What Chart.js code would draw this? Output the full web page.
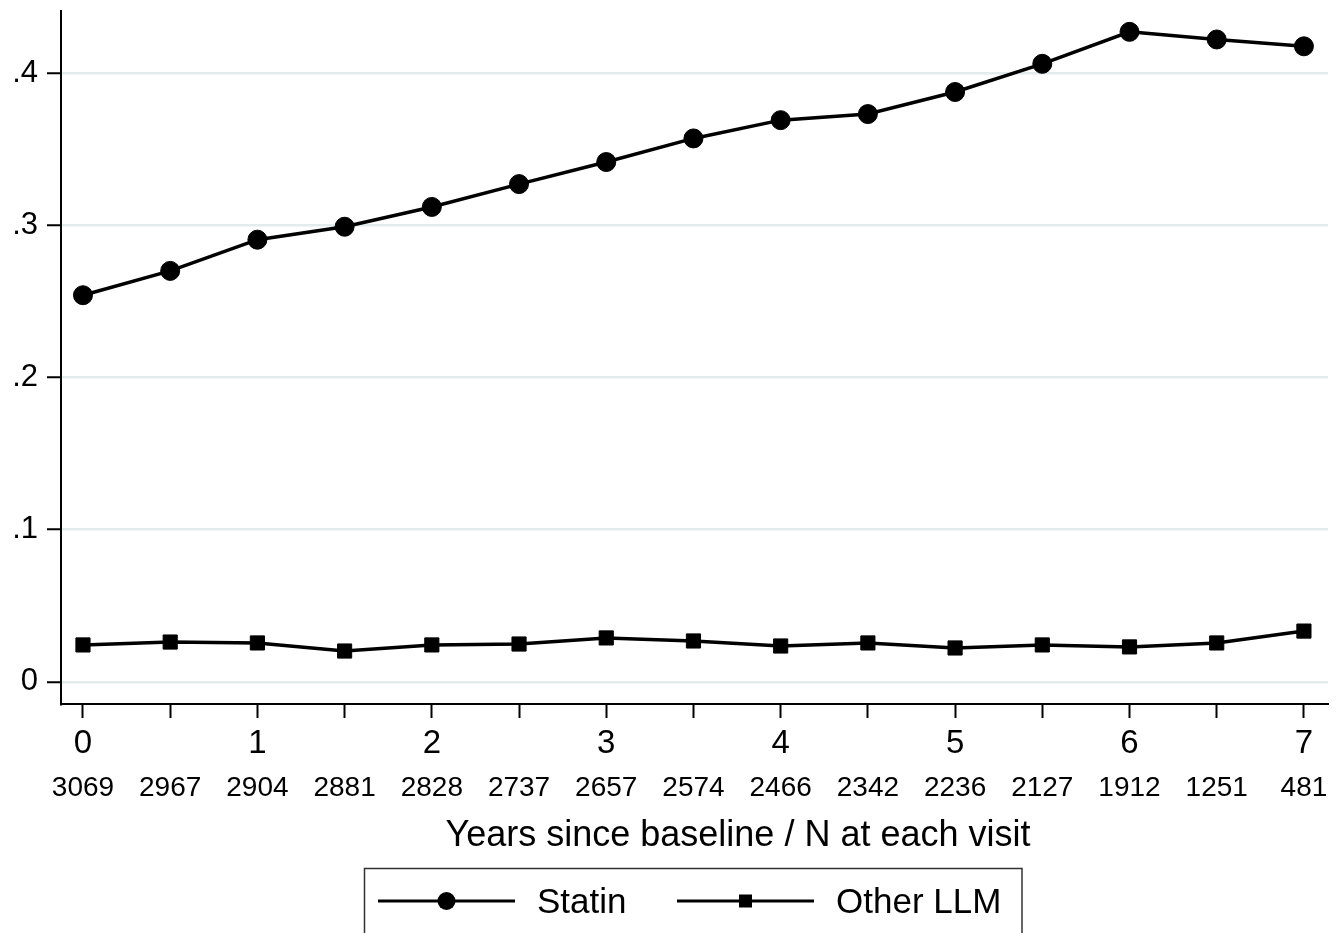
<!DOCTYPE html>
<html lang="en">
<head>
    <meta charset="UTF-8">
    <title>Statin vs Other LLM use</title>
    <script src="https://cdn.jsdelivr.net/npm/chart.js@4.4.1/dist/chart.umd.min.js"></script>
    <style>
        html, body { margin: 0; padding: 0; background: #fff; }
        #wrap { width: 1339px; height: 933px; }
    </style>
</head>
<body>
    <div id="wrap"><canvas id="chart" width="1339" height="933"></canvas></div>
    <script>
        // data
        const years = [0, 0.5, 1, 1.5, 2, 2.5, 3, 3.5, 4, 4.5, 5, 5.5, 6, 6.5, 7];
        const nAtVisit = ['3069', '2967', '2904', '2881', '2828', '2737', '2657', '2574', '2466', '2342', '2236', '2127', '1912', '1251', '481'];
        const statin = [0.254, 0.270, 0.2905, 0.299, 0.312, 0.327, 0.3415, 0.357, 0.369, 0.373, 0.3875, 0.406, 0.427, 0.422, 0.4175];
        const otherLLM = [0.0243, 0.0262, 0.0256, 0.0203, 0.0243, 0.0249, 0.0289, 0.0269, 0.0236, 0.0256, 0.0223, 0.0243, 0.0230, 0.0256, 0.0334];
        const yTicks = [0, 0.1, 0.2, 0.3, 0.4];
        const seriesNames = ['Statin', 'Other LLM'];
        const xTitle = 'Years since baseline / N at each visit';

        const FONT = '"Liberation Sans", Arial, sans-serif';
        Chart.defaults.font.family = FONT;
        Chart.defaults.color = '#000';

        const toPts = arr => years.map((x, i) => ({ x: x, y: arr[i] }));
        const noPad = s => { s.paddingTop = 0; s.paddingBottom = 0; s.paddingLeft = 0; s.paddingRight = 0; };

        // axis title (stata puts it a bit right of centre) + boxed legend with line+marker
        const boxLegend = {
            id: 'boxLegend',
            afterDraw(chart) {
                const ctx = chart.ctx;
                ctx.save();
                ctx.fillStyle = '#000';
                ctx.font = '36px ' + FONT;
                ctx.textAlign = 'center';
                ctx.textBaseline = 'middle';
                ctx.fillText(xTitle, 738, 836);

                ctx.strokeStyle = '#333';
                ctx.lineWidth = 1.5;
                ctx.strokeRect(364.5, 868.5, 657.5, 80);

                const items = [
                    { x0: 378, x1: 515, tx: 537 },
                    { x0: 677, x1: 814, tx: 836 }
                ];
                const y = 901;
                chart.data.datasets.forEach((ds, i) => {
                    const it = items[i];
                    ctx.strokeStyle = '#000';
                    ctx.lineWidth = 3;
                    ctx.beginPath();
                    ctx.moveTo(it.x0, y);
                    ctx.lineTo(it.x1, y);
                    ctx.stroke();
                    const cx = (it.x0 + it.x1) / 2;
                    if (ds.pointStyle === 'rect') {
                        ctx.fillRect(cx - 6.5, y - 6.5, 13, 13);
                    } else {
                        ctx.beginPath();
                        ctx.arc(cx, y, 9, 0, Math.PI * 2);
                        ctx.fill();
                    }
                    ctx.font = '35px ' + FONT;
                    ctx.textAlign = 'left';
                    ctx.fillText(ds.label, it.tx, y + 2);
                });
                ctx.restore();
            }
        };

        new Chart(document.getElementById('chart'), {
            type: 'line',
            data: {
                datasets: [
                    {
                        label: seriesNames[0],
                        data: toPts(statin),
                        borderColor: '#000',
                        backgroundColor: '#000',
                        borderWidth: 3.5,
                        pointStyle: 'circle',
                        pointRadius: 9.5,
                        pointBorderWidth: 1,
                        tension: 0
                    },
                    {
                        label: seriesNames[1],
                        data: toPts(otherLLM),
                        borderColor: '#000',
                        backgroundColor: '#000',
                        borderWidth: 3.5,
                        pointStyle: 'rect',
                        pointRadius: 10,
                        pointBorderWidth: 1,
                        tension: 0
                    }
                ]
            },
            options: {
                responsive: false,
                animation: false,
                layout: { padding: { top: 10, right: 11, bottom: 73, left: 0 } },
                plugins: {
                    legend: { display: false },
                    tooltip: { enabled: false }
                },
                scales: {
                    x: {
                        type: 'linear',
                        position: 'bottom',
                        min: -0.126,
                        max: 7.138,
                        weight: 0,
                        afterBuildTicks: s => { s.ticks = years.map(v => ({ value: v })); },
                        afterFit: s => { s.height = 67; noPad(s); },
                        ticks: {
                            autoSkip: false,
                            maxRotation: 0,
                            padding: 6,
                            font: { size: 33 },
                            callback: v => Number.isInteger(v) ? String(v) : ''
                        },
                        grid: {
                            drawOnChartArea: false,
                            tickLength: 14,
                            tickColor: '#000',
                            tickWidth: 2
                        },
                        border: { color: '#000', width: 2 }
                    },
                    x2: {
                        type: 'linear',
                        position: 'bottom',
                        min: -0.126,
                        max: 7.138,
                        weight: 1,
                        afterBuildTicks: s => { s.ticks = years.map(v => ({ value: v })); },
                        afterFit: s => { s.height = 89; noPad(s); },
                        ticks: {
                            autoSkip: false,
                            maxRotation: 0,
                            padding: 0,
                            font: { size: 28 },
                            callback: (v, i) => nAtVisit[i]
                        },
                        grid: { display: false, drawTicks: false },
                        border: { display: false }
                    },
                    y: {
                        type: 'linear',
                        min: -0.0145,
                        max: 0.4407,
                        afterBuildTicks: s => { s.ticks = yTicks.map(v => ({ value: v })); },
                        afterFit: s => { s.width = 61; noPad(s); },
                        ticks: {
                            padding: 9,
                            font: { size: 31 },
                            callback: v => v === 0 ? '0' : String(Math.round(v * 10) / 10).replace(/^0/, '')
                        },
                        grid: {
                            color: '#e3eced',
                            lineWidth: 2.5,
                            tickLength: 14,
                            tickColor: '#000',
                            tickWidth: 2
                        },
                        border: { color: '#000', width: 2 }
                    }
                }
            },
            plugins: [boxLegend]
        });
    </script>
</body>
</html>
